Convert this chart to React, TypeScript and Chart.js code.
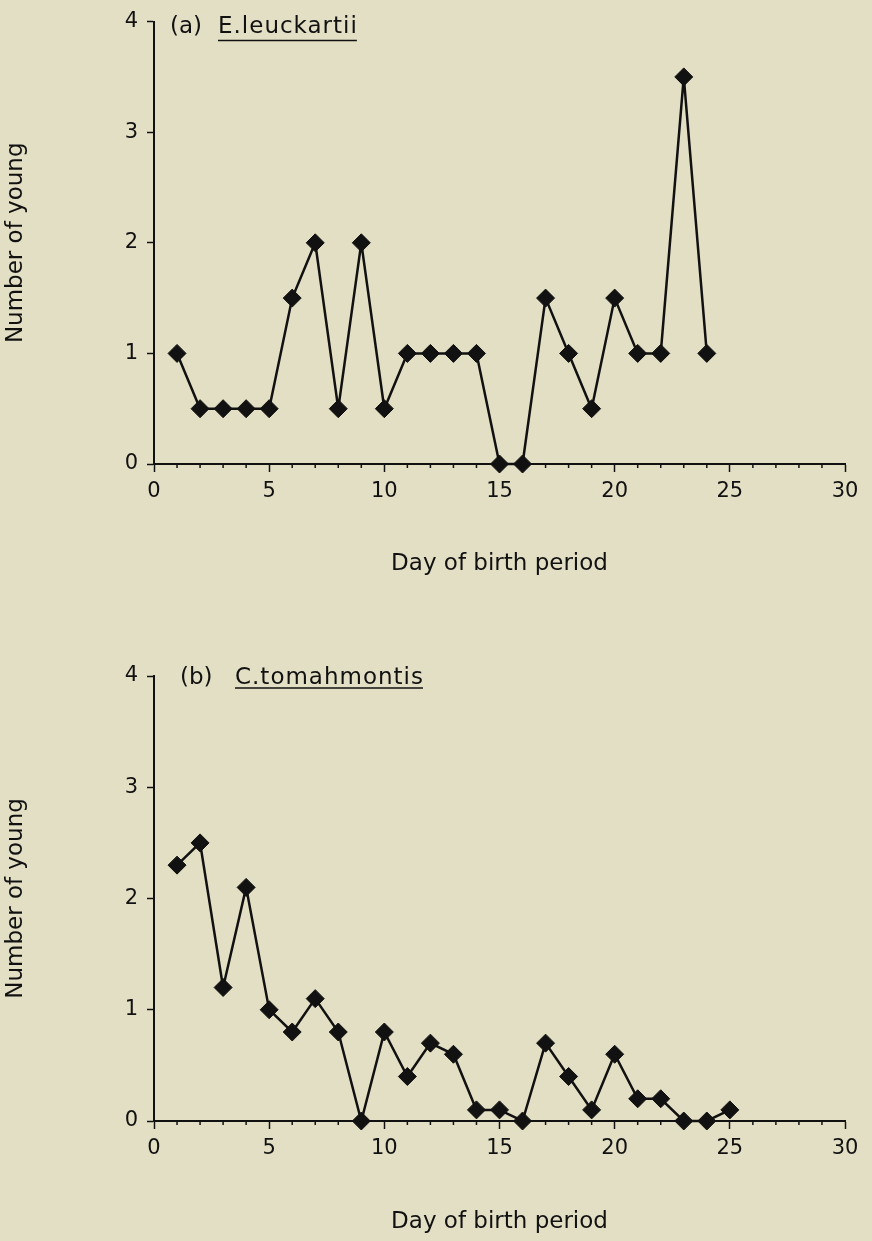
import React, { useEffect, useRef } from 'react';
import { Chart, registerables } from 'chart.js';

Chart.register(...registerables);

// ---- data ----
const daysA = [1, 2, 3, 4, 5, 6, 7, 8, 9, 10, 11, 12, 13, 14, 15, 16, 17, 18, 19, 20, 21, 22, 23, 24];
const youngA = [1, 0.5, 0.5, 0.5, 0.5, 1.5, 2, 0.5, 2, 0.5, 1, 1, 1, 1, 0, 0, 1.5, 1, 0.5, 1.5, 1, 1, 3.5, 1];

const daysB = [1, 2, 3, 4, 5, 6, 7, 8, 9, 10, 11, 12, 13, 14, 15, 16, 17, 18, 19, 20, 21, 22, 23, 24, 25];
const youngB = [2.3, 2.5, 1.2, 2.1, 1.0, 0.8, 1.1, 0.8, 0, 0.8, 0.4, 0.7, 0.6, 0.1, 0.1, 0, 0.7, 0.4, 0.1, 0.6, 0.2, 0.2, 0, 0, 0.1];

const xTickValues = [0, 5, 10, 15, 20, 25, 30];
const yTickValues = [0, 1, 2, 3, 4];
const xMinorValues = [1, 2, 3, 4, 6, 7, 8, 9, 11, 12, 13, 14, 16, 17, 18, 19, 21, 22, 23, 24, 26, 27, 28, 29];

const xTitle = 'Day of birth period';
const yTitle = 'Number of young';

const FONT = '"DejaVu Sans", sans-serif';
const INK = '#111111';
const BG = '#e3dfc4';

const decorPlugin = {
  id: 'panelDecor',
  afterDraw(chart: any, _args: any, opts: any) {
    const { ctx, chartArea, scales } = chart;
    const xs = scales.x;
    const ys = scales.y;
    ctx.save();
    ctx.strokeStyle = INK;
    ctx.lineWidth = 1.5;
    const yb = chartArea.bottom;
    for (const v of xMinorValues) {
      const px = xs.getPixelForValue(v);
      ctx.beginPath();
      ctx.moveTo(px, yb);
      ctx.lineTo(px, yb + 4);
      ctx.stroke();
    }
    const top = ys.getPixelForValue(4);
    ctx.fillStyle = INK;
    ctx.font = `23px ${FONT}`;
    ctx.textBaseline = 'alphabetic';
    ctx.textAlign = 'left';
    ctx.fillText(opts.tag, chartArea.left + opts.tagDx, top + opts.baseDy);
    try { (ctx as any).letterSpacing = '1px'; } catch (e) {}
    const nx = chartArea.left + opts.nameDx;
    ctx.fillText(opts.species, nx, top + opts.baseDy);
    const w = ctx.measureText(opts.species).width;
    try { (ctx as any).letterSpacing = '0px'; } catch (e) {}
    ctx.lineWidth = 1.5;
    ctx.beginPath();
    ctx.moveTo(nx, top + opts.ulDy);
    ctx.lineTo(nx + w - 1, top + opts.ulDy);
    ctx.stroke();
    ctx.restore();
  },
};

type PanelProps = {
  top: number;
  height: number;
  padTop: number;
  xScaleHeight: number;
  xTitlePad: number;
  days: number[];
  values: number[];
  tag: string;
  species: string;
  tagDx: number;
  nameDx: number;
  baseDy: number;
  ulDy: number;
};

function Panel(p: PanelProps) {
  const ref = useRef<HTMLCanvasElement | null>(null);
  useEffect(() => {
    if (!ref.current) return;
    const data = p.days.map((d, i) => ({ x: d, y: p.values[i] }));
    const chart = new Chart(ref.current, {
      type: 'line',
      data: {
        datasets: [
          {
            data,
            borderColor: INK,
            borderWidth: 2.5,
            backgroundColor: INK,
            pointStyle: 'rectRot',
            pointRadius: 9,
            pointBorderWidth: 1,
            pointBackgroundColor: INK,
            pointBorderColor: INK,
            tension: 0,
            clip: false as any,
          },
        ],
      },
      options: {
        animation: false,
        responsive: false,
        devicePixelRatio: 1,
        layout: { padding: { top: p.padTop, right: 27, left: 0, bottom: 0 } },
        plugins: {
          legend: { display: false },
          tooltip: { enabled: false },
          panelDecor: {
            tag: p.tag,
            species: p.species,
            tagDx: p.tagDx,
            nameDx: p.nameDx,
            baseDy: p.baseDy,
            ulDy: p.ulDy,
          },
        } as any,
        scales: {
          x: {
            type: 'linear',
            min: 0,
            max: 30,
            afterBuildTicks: (s: any) => {
              s.ticks = xTickValues.map((v) => ({ value: v }));
            },
            afterFit: (s: any) => {
              s.height = p.xScaleHeight;
            },
            border: { display: true, color: INK, width: 2 },
            grid: { drawOnChartArea: false, drawTicks: true, tickLength: 8, tickWidth: 1.5, tickColor: INK },
            ticks: {
              color: INK,
              font: { family: FONT, size: 21 },
              padding: 7,
              maxRotation: 0,
              autoSkip: false,
            },
            title: {
              display: true,
              text: xTitle,
              color: INK,
              font: { family: FONT, size: 23 },
              padding: { top: 0, bottom: p.xTitlePad },
            },
          },
          y: {
            type: 'linear',
            min: 0,
            max: 4,
            afterBuildTicks: (s: any) => {
              s.ticks = yTickValues.map((v) => ({ value: v }));
            },
            afterFit: (s: any) => {
              s.width = 154;
            },
            border: { display: true, color: INK, width: 2 },
            grid: { drawOnChartArea: false, drawTicks: true, tickLength: 7, tickWidth: 1.5, tickColor: INK },
            ticks: {
              color: INK,
              font: { family: FONT, size: 21 },
              padding: 9,
              autoSkip: false,
            },
            title: {
              display: true,
              text: yTitle,
              color: INK,
              font: { family: FONT, size: 23 },
              padding: { top: 2, bottom: 0 },
            },
          },
        },
      },
      plugins: [decorPlugin],
    });
    return () => chart.destroy();
  }, []);
  return (
    <canvas
      ref={ref}
      width={872}
      height={p.height}
      style={{ position: 'absolute', left: 0, top: p.top, width: 872, height: p.height }}
    />
  );
}

export default function App() {
  return (
    <div
      style={{
        position: 'fixed',
        left: 0,
        top: 0,
        width: 872,
        height: 1241,
        background: BG,
        overflow: 'hidden',
      }}
    >
      <Panel
        top={0}
        height={600}
        padTop={20}
        xScaleHeight={136}
        xTitlePad={22}
        days={daysA}
        values={youngA}
        tag="(a)"
        species="E.leuckartii"
        tagDx={16}
        nameDx={64}
        baseDy={11}
        ulDy={19}
      />
      <Panel
        top={600}
        height={641}
        padTop={76}
        xScaleHeight={120}
        xTitlePad={5}
        days={daysB}
        values={youngB}
        tag="(b)"
        species="C.tomahmontis"
        tagDx={26}
        nameDx={81}
        baseDy={8}
        ulDy={12}
      />
    </div>
  );
}
